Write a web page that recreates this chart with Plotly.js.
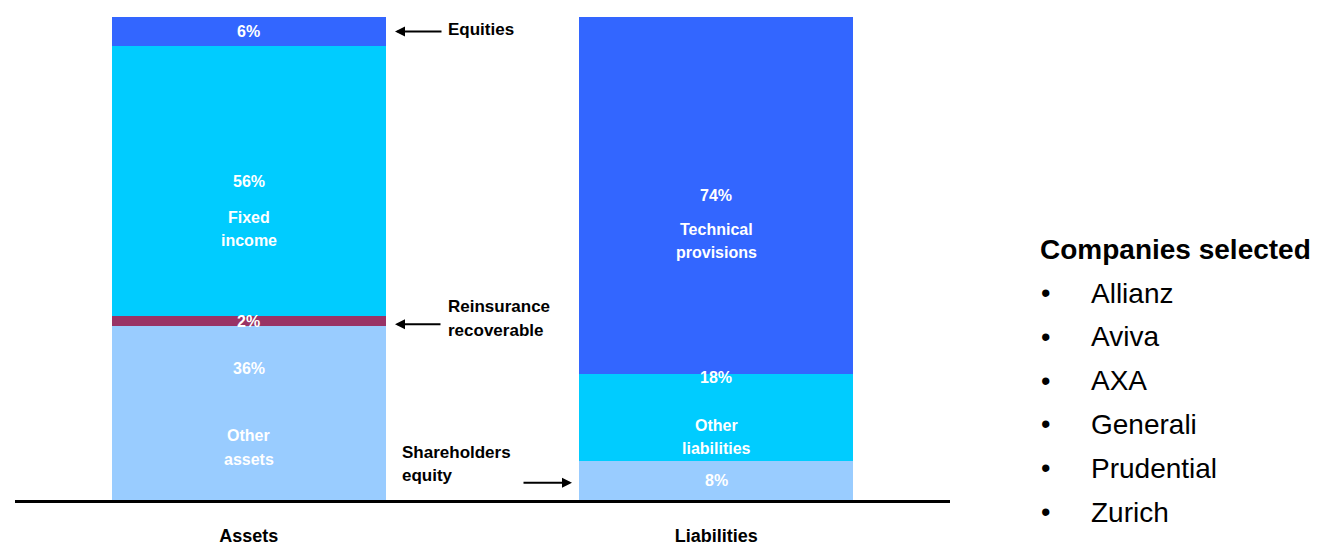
<!DOCTYPE html>
<html>
<head>
<meta charset="utf-8">
<script src="https://cdn.plot.ly/plotly-3.0.1.min.js"></script>
<style>html,body{margin:0;padding:0;background:#fff;}#chart{width:1321px;height:556px;}</style>
</head>
<body>
<div id="chart"></div>
<script>
// ---- data ----
const columns = ['Assets', 'Liabilities'];
const assetSegments = ['Other assets', 'Reinsurance recoverable', 'Fixed income', 'Equities'];
const assetValues = [36, 2, 56, 6];
const assetInnerLabels = [['Other', 'assets'], null, ['Fixed', 'income'], null];
const liabSegments = ['Shareholders equity', 'Other liabilities', 'Technical provisions'];
const liabValues = [8, 18, 74];
const liabInnerLabels = [null, ['Other', 'liabilities'], ['Technical', 'provisions']];
const companiesTitle = 'Companies selected';
const companies = ['Allianz', 'Aviva', 'AXA', 'Generali', 'Prudential', 'Zurich'];

// ---- styles ----
const assetColors = ['#99CCFF', '#993366', '#00CCFF', '#3366FF'];
const liabColors = ['#99CCFF', '#00CCFF', '#3366FF'];
const pctShiftAssets = [45, 0, 0, 0];
const pctShiftLiab = [0, 40, 0];
const labelShiftAssets = [[-22, -46], null, [-36, -59], null];
const labelShiftLiab = [null, [-8, -31], [-34, -57]];
const FONT = '"Liberation Sans", Arial, sans-serif';

const traces = [];
const annotations = [];

function addColumn(col, names, vals, colors, inner, pctShift, lblShift) {
  let cum = 0;
  names.forEach((n, i) => {
    traces.push({
      type: 'bar', x: [col], y: [vals[i]], name: n,
      marker: {color: colors[i], line: {width: 0}},
      width: 0.586, hoverinfo: 'skip', showlegend: false
    });
    const mid = cum + vals[i] / 2;
    annotations.push({
      x: col, y: mid, xref: 'x', yref: 'y', yanchor: 'middle', text: '<b>' + vals[i] + '%</b>',
      showarrow: false, yshift: pctShift[i],
      font: {family: FONT, size: 16, color: '#ffffff'}
    });
    if (inner[i]) {
      inner[i].forEach((line, j) => {
        annotations.push({
          x: col, y: mid, xref: 'x', yref: 'y', yanchor: 'middle', text: '<b>' + line + '</b>',
          showarrow: false, yshift: lblShift[i][j],
          font: {family: FONT, size: 16, color: '#ffffff'}
        });
      });
    }
    cum += vals[i];
  });
}
addColumn(columns[0], assetSegments, assetValues, assetColors, assetInnerLabels, pctShiftAssets, labelShiftAssets);
addColumn(columns[1], liabSegments, liabValues, liabColors, liabInnerLabels, pctShiftLiab, labelShiftLiab);

// pixel helpers for paper coords (plot area: x 15..950, y 17..500)
const px = v => (v - 15) / 935;
const py = v => (500 - v) / 483;
const blackFont = {family: FONT, size: 17, color: '#000000'};

function cumMid(vals, i) { let c = 0; for (let k = 0; k < i; k++) c += vals[k]; return c + vals[i] / 2; }

// Equities callout
annotations.push({xref: 'paper', yref: 'y', x: px(395), y: cumMid(assetValues, 3), ax: 48, ay: 0,
  text: '', showarrow: true, arrowhead: 2, arrowsize: 1, arrowwidth: 2, arrowcolor: '#000'});
annotations.push({xref: 'paper', yref: 'y', x: px(446), y: cumMid(assetValues, 3), xanchor: 'left', yanchor: 'middle',
  text: '<b>' + assetSegments[3] + '</b>', showarrow: false, yshift: 2, font: blackFont});
// Reinsurance callout
annotations.push({xref: 'paper', yref: 'y', x: px(395), y: cumMid(assetValues, 1), ax: 47, ay: 0, yshift: -3,
  text: '', showarrow: true, arrowhead: 2, arrowsize: 1, arrowwidth: 2, arrowcolor: '#000'});
const reLines = assetSegments[1].split(' ');
reLines.forEach((l, j) => annotations.push({xref: 'paper', yref: 'y', x: px(446), y: cumMid(assetValues, 1),
  xanchor: 'left', yanchor: 'middle', text: '<b>' + l + '</b>', showarrow: false, yshift: 15 - 24 * j, font: blackFont}));
// Shareholders equity callout
annotations.push({xref: 'paper', yref: 'y', x: px(572), y: cumMid(liabValues, 0), ax: -50, ay: 0, yshift: -2,
  text: '', showarrow: true, arrowhead: 2, arrowsize: 1, arrowwidth: 2, arrowcolor: '#000'});
const shLines = liabSegments[0].split(' ');
shLines.forEach((l, j) => annotations.push({xref: 'paper', yref: 'y', x: px(400), y: cumMid(liabValues, 0),
  xanchor: 'left', yanchor: 'middle', text: '<b>' + l + '</b>', showarrow: false, yshift: 28 - 23 * j, font: blackFont}));

// Companies list
annotations.push({xref: 'paper', yref: 'paper', x: px(1038), y: py(249), xanchor: 'left', yanchor: 'middle',
  text: '<b>' + companiesTitle + '</b>', showarrow: false, font: {family: FONT, size: 28, color: '#000'}});
companies.forEach((c, i) => {
  const yy = py(293 + 43.8 * i);
  annotations.push({xref: 'paper', yref: 'paper', x: px(1045), y: yy, xanchor: 'center', yanchor: 'middle',
    text: '•', showarrow: false, font: {family: FONT, size: 27, color: '#000'}});
  annotations.push({xref: 'paper', yref: 'paper', x: px(1089), y: yy, xanchor: 'left', yanchor: 'middle',
    text: c, showarrow: false, font: {family: FONT, size: 28, color: '#000'}});
});

const layout = {
  width: 1321, height: 556,
  margin: {l: 15, r: 371, t: 17, b: 56, pad: 0},
  paper_bgcolor: '#ffffff', plot_bgcolor: '#ffffff',
  barmode: 'stack', bargap: 0,
  showlegend: false,
  xaxis: {
    type: 'category', range: [-0.5, 1.5], showline: true, linecolor: '#000', linewidth: 3,
    ticks: '', showgrid: false, zeroline: false, fixedrange: true,
    tickfont: {family: FONT, size: 18, color: '#000', weight: 'bold'},
    ticklabelstandoff: 17
  },
  yaxis: {range: [0, 100], visible: false, showgrid: false, zeroline: false, fixedrange: true},
  annotations: annotations,
  hovermode: false
};

Plotly.newPlot('chart', traces, layout, {staticPlot: true, displayModeBar: false});
</script>
</body>
</html>
